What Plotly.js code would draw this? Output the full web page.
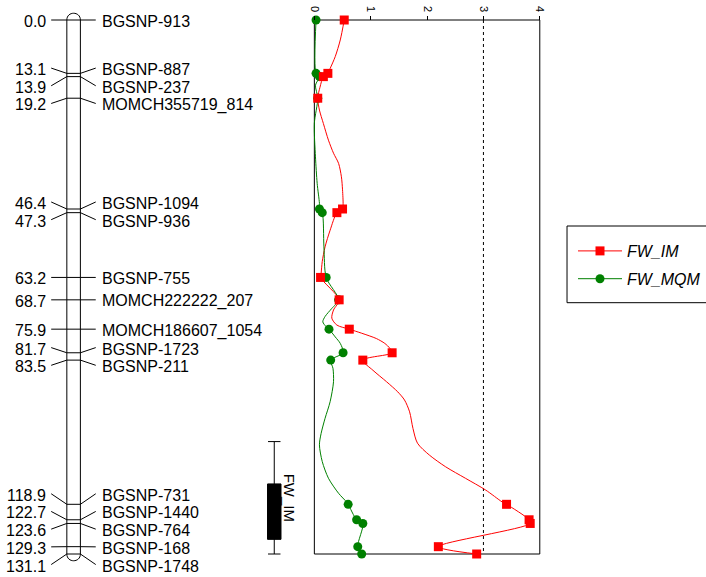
<!DOCTYPE html>
<html><head><meta charset="utf-8">
<script src="https://cdn.plot.ly/plotly-3.0.1.min.js"></script>
<style>html,body{margin:0;padding:0;background:#fff;}#chart{width:706px;height:577px;}</style>
</head><body><div id="chart"></div>
<script>
// ---------- data ----------
const markerNames = ['BGSNP-913','BGSNP-887','BGSNP-237','MOMCH355719_814','BGSNP-1094','BGSNP-936','BGSNP-755','MOMCH222222_207','MOMCH186607_1054','BGSNP-1723','BGSNP-211','BGSNP-731','BGSNP-1440','BGSNP-764','BGSNP-168','BGSNP-1748'];
const markerCM = [0.0,13.1,13.9,19.2,46.4,47.3,63.2,68.7,75.9,81.7,83.5,118.9,122.7,123.6,129.3,131.1];
const imLOD  = [0.53,0.24,0.16,0.06,0.50,0.40,0.11,0.44,0.62,1.38,0.86,3.41,3.81,3.83,2.20,2.88];
const mqmLOD = [0.03,0.03,0.09,0.06,0.09,0.14,0.21,0.43,0.26,0.51,0.29,0.60,0.75,0.86,0.77,0.84];

const imProfileCM  = [0,4.9,9.0,11.9,13.1,13.9,16.5,19.2,22.1,25.4,29.5,32.7,35.2,38.5,41.7,45.4,46.4,47.3,51.6,55.7,59.3,62.2,63.2,68.7,71.2,73.2,74.9,75.9,76.9,78.2,79.4,80.6,81.7,83.5,86.0,88.8,91.3,93.3,96.2,100.3,103.9,106.8,109.7,112.5,115.4,118.3,118.9,122.7,123.6,129.3,131.1];
const imProfileLOD = [0.53,0.46,0.37,0.28,0.24,0.16,0.10,0.06,0.09,0.16,0.25,0.34,0.43,0.48,0.50,0.51,0.50,0.40,0.28,0.19,0.14,0.12,0.11,0.44,0.34,0.31,0.40,0.62,0.84,1.10,1.25,1.34,1.38,0.86,1.04,1.28,1.48,1.60,1.69,1.75,1.83,2.04,2.33,2.68,3.04,3.33,3.41,3.81,3.83,2.20,2.88];

const mqmProfileCM  = [0,13.1,13.9,16.0,19.2,25.4,33.6,40.1,45.0,46.4,47.3,55.7,63.2,68.7,70.8,72.8,74.1,75.3,75.9,77.8,79.4,81.7,83.5,85.5,88.8,93.7,97.8,101.5,104.3,108.4,112.5,116.2,118.3,118.9,122.7,123.6,129.3,131.1];
const mqmProfileLOD = [0.03,0.03,0.09,0.02,0.06,0.00,0.02,0.05,0.09,0.09,0.14,0.17,0.21,0.43,0.31,0.19,0.15,0.21,0.26,0.37,0.46,0.51,0.29,0.33,0.34,0.28,0.19,0.12,0.09,0.14,0.25,0.43,0.57,0.60,0.75,0.86,0.77,0.84];

const seriesNames = ['FW_IM','FW_MQM'];
const qtlName = 'FW_IM';
const qtlOuter = [103.5,131.1];
const qtlInner = [113.9,127.5];
const lodThreshold = 3;
const lodTicks = [0,1,2,3,4];

// ---------- layout geometry ----------
const W = 706, H = 577, TOP = 20, BOTTOM = 554;
const cmMax = markerCM[markerCM.length-1];
const pxPerCM = (BOTTOM-TOP)/cmMax;
const yRange = [(H-TOP)/pxPerCM, -TOP/pxPerCM];
const lod0px = 317.5, lodMaxPx = 545.2, lodMax = 4;
const pxPerLOD = (lodMaxPx-lod0px)/lodMax;
const xPad = 0.1;
const xDomain = [(lod0px - xPad*pxPerLOD)/W, (lod0px + (lodMax+xPad)*pxPerLOD)/W];
const FONT = 'Liberation Sans, Arial, sans-serif';
const RED = '#ff0000', GREEN = '#008000';

// label decluttering: groups centred on midpoint of their extreme markers
const gap = 17.7/pxPerCM;
function spreadLabels(pos){
  let groups = pos.map((p,i)=>({lo:i,hi:i}));
  const place = g => { const c=(pos[g.lo]+pos[g.hi])/2, n=g.hi-g.lo; g.first=c-n*gap/2; g.last=c+n*gap/2; };
  groups.forEach(place);
  let changed = true;
  while(changed){
    changed = false;
    for(let k=0;k<groups.length-1;k++){
      if(groups[k+1].first - groups[k].last < gap-1e-9){
        const g={lo:groups[k].lo,hi:groups[k+1].hi}; place(g);
        groups.splice(k,2,g); changed=true; break;
      }
    }
  }
  const out=[];
  groups.forEach(g=>{for(let i=g.lo;i<=g.hi;i++) out.push(g.first+(i-g.lo)*gap);});
  return out;
}
const labelCM = spreadLabels(markerCM);

// chromosome geometry (pixel x on x2, cM on y)
const chrL = 67.5, chrR = 81.2, capK = 9.0/pxPerCM;
const connL0 = 51.7, connR1 = 96.7;

const shapes = [];
shapes.push({type:'path', xref:'x2', yref:'y', layer:'below',
  path:`M${chrL},0 C${chrL},${-capK} ${chrR},${-capK} ${chrR},0 L${chrR},${cmMax} C${chrR},${cmMax+capK} ${chrL},${cmMax+capK} ${chrL},${cmMax} Z`,
  line:{color:'black',width:1}, fillcolor:'white'});
markerCM.forEach((m,i)=>{
  const l = labelCM[i];
  shapes.push({type:'path', xref:'x2', yref:'y', layer:'below',
    path:`M${connL0},${l} L${chrL},${m} L${chrR},${m} L${connR1},${l}`,
    line:{color:'black',width:1}});
});
// QTL interval bar
const qx = 277, qhw = 6.3, qbw = 6.8;
shapes.push({type:'line', xref:'x2', yref:'y', x0:qx, x1:qx, y0:qtlOuter[0], y1:qtlOuter[1], line:{color:'black',width:1}});
shapes.push({type:'line', xref:'x2', yref:'y', x0:qx-qhw, x1:qx+qhw, y0:qtlOuter[0], y1:qtlOuter[0], line:{color:'black',width:1}});
shapes.push({type:'line', xref:'x2', yref:'y', x0:qx-qhw, x1:qx+qhw, y0:qtlOuter[1], y1:qtlOuter[1], line:{color:'black',width:1}});
shapes.push({type:'rect', xref:'x2', yref:'y', x0:qx-qbw, x1:qx+qbw, y0:qtlInner[0], y1:qtlInner[1], line:{color:'black',width:1}, fillcolor:'black'});
// LOD frame and threshold
shapes.push({type:'rect', xref:'x', yref:'y', x0:0, x1:lodMax, y0:0, y1:cmMax, line:{color:'black',width:1}, layer:'below'});
shapes.push({type:'line', xref:'x', yref:'y', x0:lodThreshold, x1:lodThreshold, y0:0, y1:cmMax, line:{color:'black',width:1,dash:'dot'}, layer:'below'});
// legend frame (runs off the right edge as in the original)
shapes.push({type:'rect', xref:'paper', yref:'paper', x0:572.7/W, x1:730/W, y0:1-226/H, y1:1-302.7/H, line:{color:'black',width:1}, fillcolor:'white', layer:'below'});

const annotations = [];
markerCM.forEach((m,i)=>{
  annotations.push({xref:'x2', yref:'y', x:48.5, y:labelCM[i], yshift:-1.5, text:m.toFixed(1), showarrow:false, xanchor:'right', yanchor:'middle', font:{family:FONT,size:16,color:'black'}});
  annotations.push({xref:'x2', yref:'y', x:100.5, y:labelCM[i], yshift:-1.5, text:markerNames[i], showarrow:false, xanchor:'left', yanchor:'middle', font:{family:FONT,size:16,color:'black'}});
});
annotations.push({xref:'x2', yref:'y', x:292, y:(qtlOuter[0]+qtlOuter[1])/2, text:qtlName, textangle:90, showarrow:false, xanchor:'center', yanchor:'middle', font:{family:FONT,size:15,color:'black'}});

const common = {hoverinfo:'skip', cliponaxis:false, xaxis:'x', yaxis:'y'};
const traces = [
  Object.assign({x:imProfileLOD, y:imProfileCM, mode:'lines', line:{color:RED,width:1,shape:'spline',smoothing:0.8}, showlegend:false, legendgroup:'im'}, common),
  Object.assign({x:mqmProfileLOD, y:mqmProfileCM, mode:'lines', line:{color:GREEN,width:1,shape:'spline',smoothing:0.8}, showlegend:false, legendgroup:'mqm'}, common),
  Object.assign({x:mqmLOD, y:markerCM, mode:'markers', marker:{symbol:'circle',size:9,color:GREEN}, showlegend:false, legendgroup:'mqm'}, common),
  Object.assign({x:imLOD, y:markerCM, mode:'markers', marker:{symbol:'square',size:9,color:RED}, showlegend:false, legendgroup:'im'}, common),
  // legend entries (line + marker)
  Object.assign({x:[null], y:[null], name:seriesNames[0], mode:'lines+markers', line:{color:RED,width:1}, marker:{symbol:'square',size:9,color:RED}, legendgroup:'im'}, common),
  Object.assign({x:[null], y:[null], name:seriesNames[1], mode:'lines+markers', line:{color:GREEN,width:1}, marker:{symbol:'circle',size:9,color:GREEN}, legendgroup:'mqm'}, common)
];

const layout = {
  width:W, height:H, margin:{l:0,r:0,t:0,b:0},
  paper_bgcolor:'white', plot_bgcolor:'rgba(0,0,0,0)',
  xaxis:{domain:xDomain, range:[-xPad, lodMax+xPad], side:'top', anchor:'free', position:1-TOP/H,
    tickvals:lodTicks, ticktext:lodTicks.map(String), tickangle:90, ticks:'outside', ticklen:4, tickcolor:'black', tickwidth:1,
    showgrid:false, zeroline:false, showline:false, tickfont:{family:FONT,size:11,color:'black'}, fixedrange:true},
  xaxis2:{domain:[0,1], range:[0,W], anchor:'y', visible:false, fixedrange:true},
  yaxis:{domain:[0,1], range:yRange, anchor:'x', visible:false, fixedrange:true},
  shapes:shapes, annotations:annotations,
  showlegend:true,
  legend:{x:579/W, y:1-234/H, xanchor:'left', yanchor:'top', bgcolor:'rgba(0,0,0,0)', borderwidth:0,
    font:{family:FONT,size:16,color:'black',style:'italic'}, tracegroupgap:4, itemwidth:44, traceorder:'grouped'}
};
Plotly.newPlot('chart', traces, layout, {staticPlot:true, displayModeBar:false});
</script></body></html>
